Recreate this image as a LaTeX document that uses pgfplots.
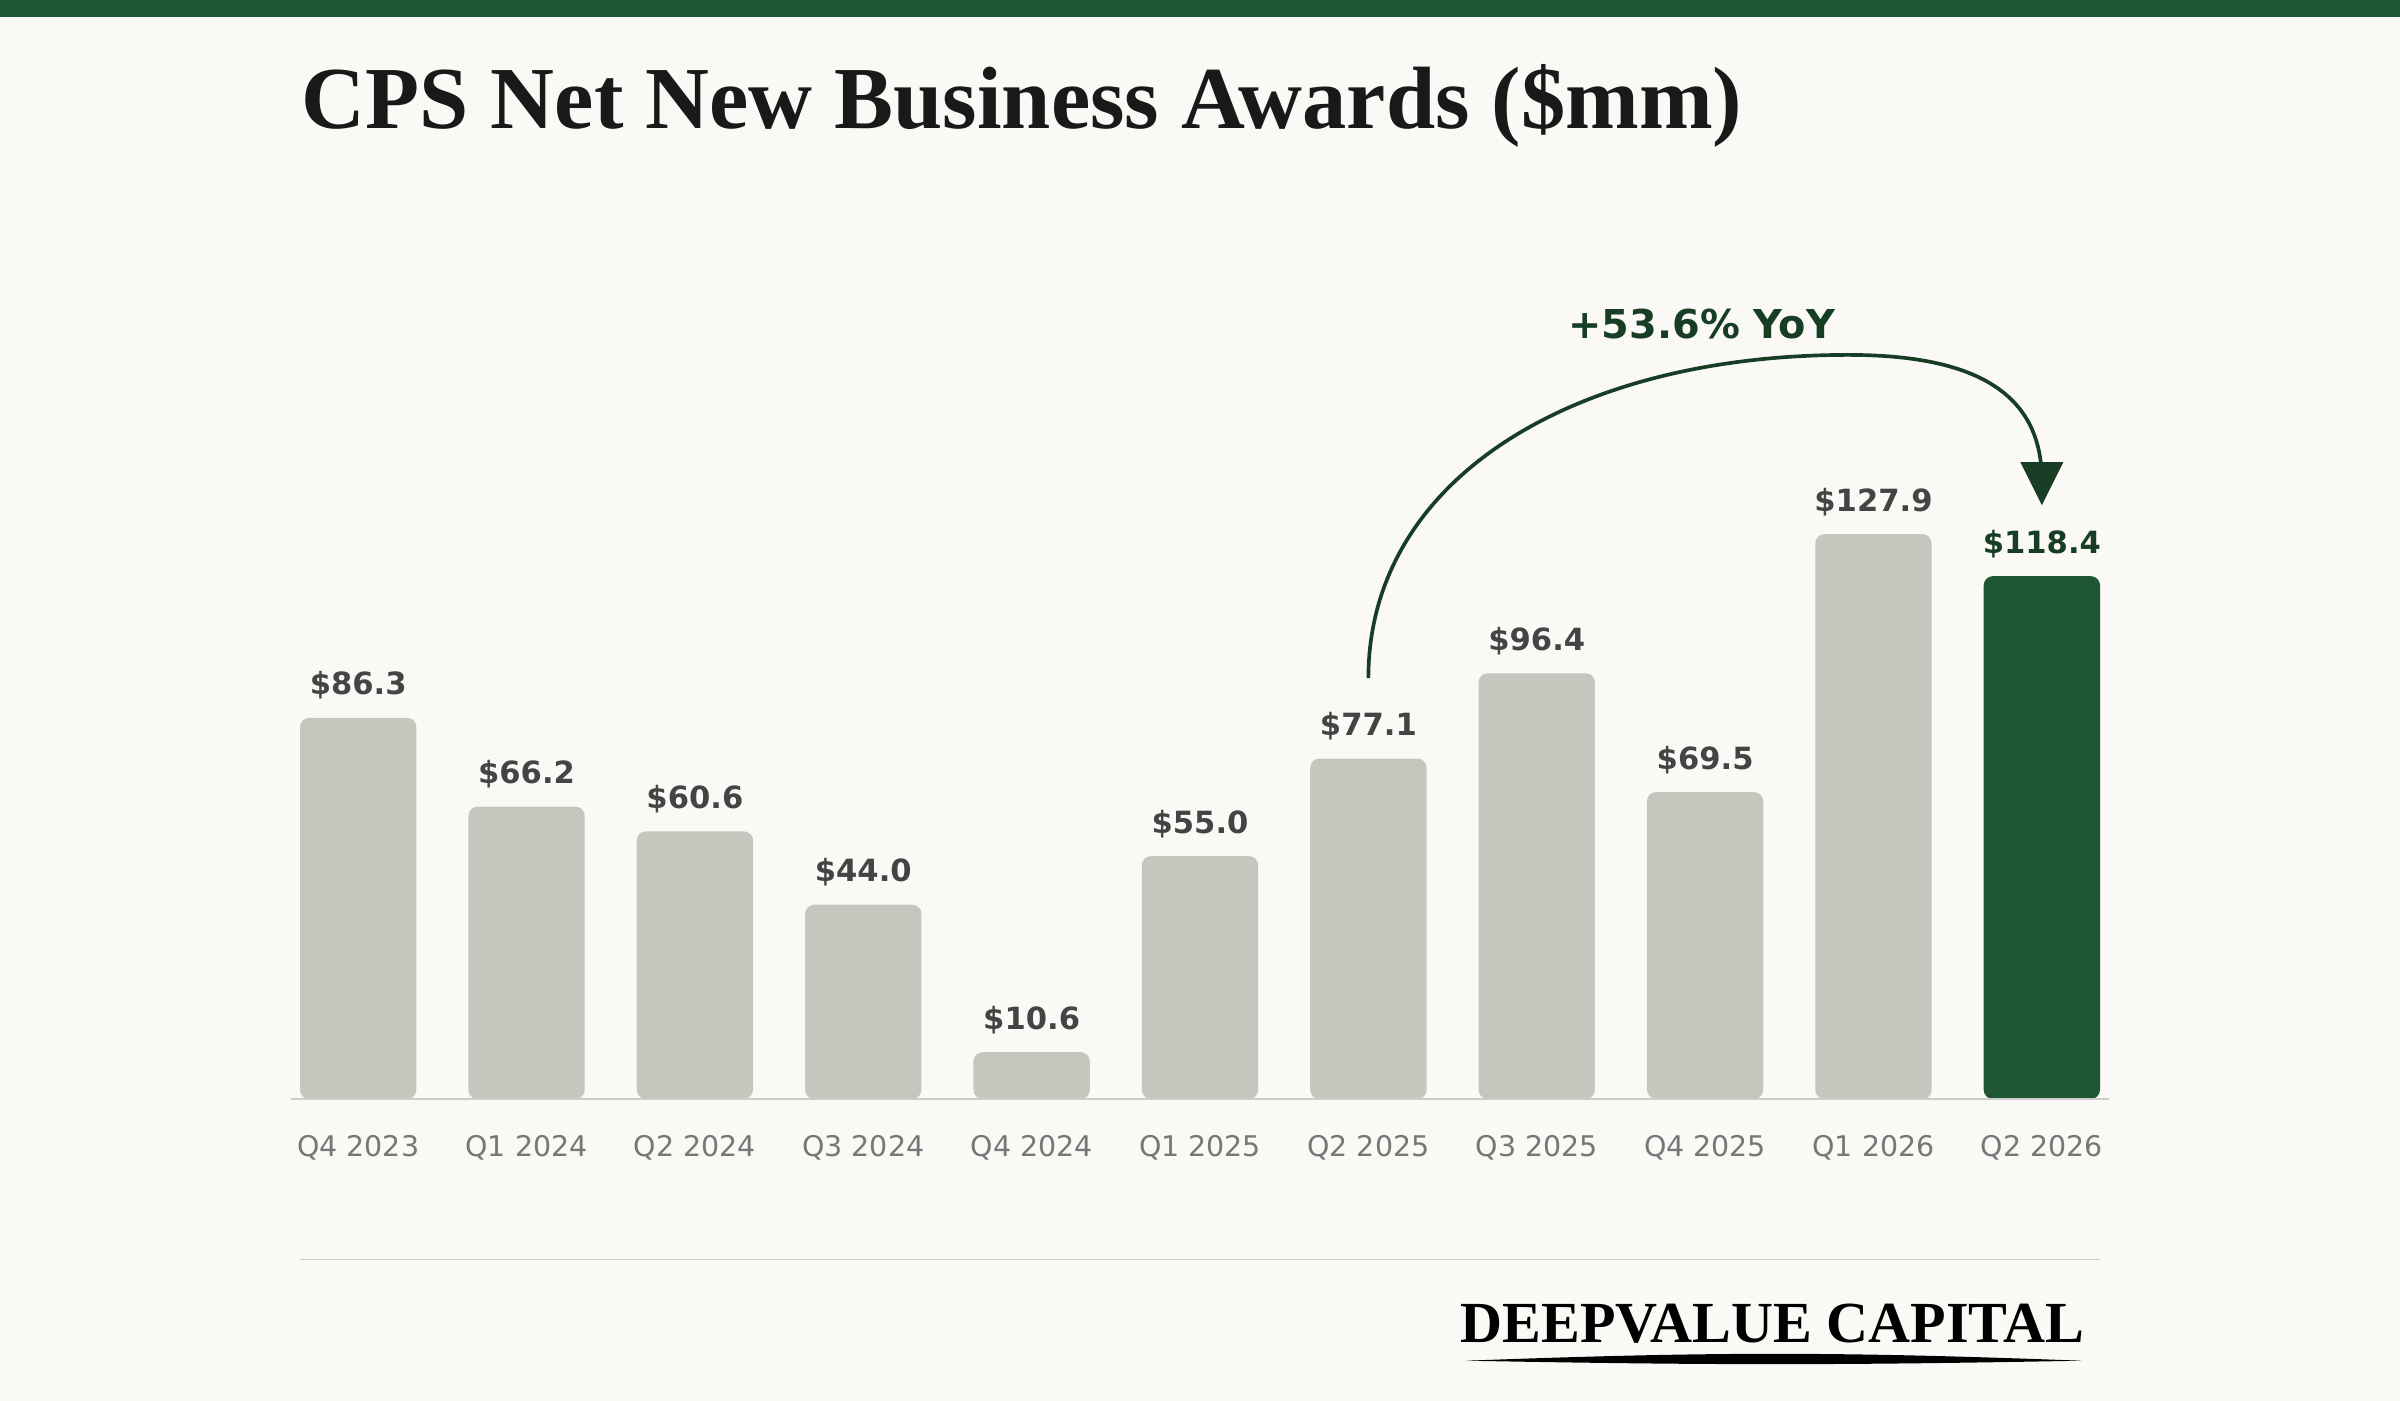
\documentclass[border=0pt]{standalone}
\usepackage{pgfplots}
\pgfplotsset{compat=1.18}
\usepackage{fontspec}
\setmainfont{DejaVu Sans}
\newfontfamily\serifb{Liberation Serif}
\definecolor{bg}{HTML}{FAF9F6}
\definecolor{barg}{HTML}{C4C7BD}
\definecolor{dgreen}{HTML}{1F5634}
\definecolor{agreen}{HTML}{173D25}
\definecolor{lbl}{HTML}{444444}
\definecolor{tick}{HTML}{777777}
\begin{document}
\begin{tikzpicture}[x=1pt,y=1pt]
\fill[bg] (0,0) rectangle (784,457.5);
\path[use as bounding box] (0,0) rectangle (784,457.5);
\fill[dgreen] (0,452) rectangle (784,457.5);
\node[anchor=west,font=\serifb\bfseries\fontsize{28.9}{29}\selectfont,text=black!90] at (95,423) {CPS Net New Business Awards (\$mm)};
\begin{axis}[at={(117pt,98.5pt)},anchor=origin,scale only axis,
  width=605pt,height=288.5pt,xmin=-0.5,xmax=10.5,ymin=0,ymax=200,
  hide y axis, axis x line*=bottom, x axis line style={draw=none},clip=false,
  ybar,bar width=38pt,bar shift=0pt,
  xtick={0,...,10},
  xticklabels={Q4 2023,Q1 2024,Q2 2024,Q3 2024,Q4 2024,Q1 2025,Q2 2025,Q3 2025,Q4 2025,Q1 2026,Q2 2026},
  xticklabel style={font=\fontsize{9.3}{10}\selectfont,text=tick,yshift=-8.5pt},
  major tick length=0pt,
  /pgf/number format/assume math mode=true,
  nodes near coords={\$\pgfmathprintnumber[fixed,precision=1,fixed zerofill]{\pgfplotspointmeta}},
  nodes near coords style={font=\bfseries\fontsize{10}{10}\selectfont,text=lbl,yshift=2.5pt}]
\addplot[fill=barg,draw=none,rounded corners=3pt] coordinates {(0,86.3)(1,66.2)(2,60.6)(3,44.0)(4,10.6)(5,55.0)(6,77.1)(7,96.4)(8,69.5)(9,127.9)};
\addplot[fill=dgreen,draw=none,rounded corners=3pt,nodes near coords style={text=agreen}] coordinates {(10,118.4)};
\draw[black!20,line width=0.6pt] (axis cs:-0.4,0) -- (axis cs:10.4,0);
\draw[agreen,line width=1.2pt] (axis cs:6,95.3) .. controls (axis cs:6,140) and (axis cs:7.2,168.5) .. (axis cs:8.85,168.5) .. controls (axis cs:9.6,168.5) and (axis cs:10,160) .. (axis cs:10,140);
\fill[agreen] (axis cs:10,134.5) -- ([shift={(-7pt,14pt)}]axis cs:10,134.5) -- ([shift={(7pt,14pt)}]axis cs:10,134.5) -- cycle;
\node[font=\bfseries\fontsize{13}{13}\selectfont,text=agreen] at (axis cs:7.98,175.4) {+53.6\% YoY};
\end{axis}
\draw[black!20,line width=0.5pt] (98,46) -- (686,46);
\node[font=\serifb\bfseries\fontsize{19}{19}\selectfont] at (579,25) {DEEPVALUE CAPITAL};
\fill[black] (479,13) .. controls (560,16) and (600,16) .. (680,13) .. controls (600,11.5) and (560,11.5) .. (479,13) -- cycle;
\end{tikzpicture}
\end{document}
